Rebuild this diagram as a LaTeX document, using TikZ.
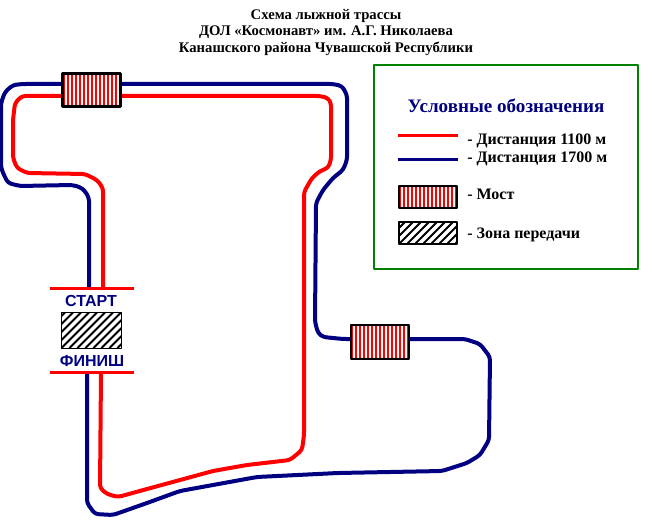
\documentclass[tikz,border=0pt]{standalone}
\usepackage{fontspec}
\setmainfont{Liberation Serif}
\newfontfamily\arialfont{Liberation Sans}
\definecolor{sinij}{RGB}{0,0,128}
\definecolor{zelenyj}{RGB}{0,128,0}
\tikzset{
	redline/.style={draw=red,line width=3pt,rounded corners=2.5pt},
	blueline/.style={draw=sinij,line width=3pt,rounded corners=2.5pt},
	mostbox/.style={draw=black,line width=1.5pt,fill=red,inner sep=0pt,
		minimum width=43.5pt,minimum height=25.5pt,
		path picture={\foreach \i in {1,...,14}
			\fill[white] ([xshift=\i*3pt-1.5pt]path picture bounding box.north west) rectangle ++(1.5pt,-30pt);}},
	zonabox/.style={draw=black,line width=.75pt,inner sep=0pt,
		minimum width=45pt,minimum height=27pt,
		path picture={\foreach \i in {-5,...,9}
			\draw[black,line width=1.5pt] ([xshift=\i*6pt]path picture bounding box.south west) -- ++(30pt,30pt);}},
	zonalegend/.style={zonabox,line width=1.5pt,minimum width=44pt,minimum height=17pt},
	mostlegend/.style={mostbox,minimum height=17pt},
	starttext/.style={font=\arialfont\bfseries\fontsize{12}{12}\selectfont,text=sinij,inner sep=0pt},
	legendtext/.style={anchor=west,inner sep=0pt,font=\fontsize{12}{12}\selectfont\bfseries}
}
\begin{document}
\begin{tikzpicture}[x=.75pt,y=-.75pt,line join=round,line cap=butt]
\useasboundingbox (0,0) rectangle (652,520);
% Заголовок
\node[align=center,inner sep=0pt,font=\fontsize{11}{12.3}\selectfont\bfseries] (title) at (326,32.5)
	{Схема лыжной трассы\\ДОЛ «Космонавт» им. А.Г. Николаева\\Канашского района Чувашской Республики};
\node[mostbox,line width=2.25pt,minimum height=24.75pt] (most1) at (91.5,90) {};
\node[mostbox] (most2) at (380,342) {};
\node[zonabox] (zona) at (91.5,330) {};
\coordinate (startR) at (103,288);
\coordinate (startB) at (89,288);
\coordinate (finR) at (101,372);
\coordinate (finB) at (87,372);
% Дистанция 1700 м
\draw[blueline] (startB) -- (89,198) -- (85,191) -- (80,187) -- (72,185) -- (20,186) -- (8,183) -- (3,173) -- (1,167) -- (1,103) -- (5,92) -- (13,85) -- (23,84) -- (most1.west|-0,84);
\draw[blueline] (most1.east|-0,84) -- (333,84) -- (342,86) -- (347,95) -- (347,160) -- (343,170) -- (333,178) -- (323,190) -- (316,203) -- (315,322) -- (318,333) -- (323,337) -- (343,339) -- (most2.west|-0,339);
\draw[blueline] (most2.east|-0,339) -- (465,339) -- (480,344) -- (490,357) -- (489,440) -- (480,455) -- (467,463) -- (442,471) -- (338,473) -- (257,477) -- (213,485) -- (180,491) -- (147,503) -- (113,515) -- (95,514) -- (87,503) -- (finB);
% Дистанция 1100 м
\draw[redline] (startR) -- (103,188) -- (97,180) -- (85,174) -- (27,173) -- (17,168) -- (13,158) -- (13,120) -- (15,103) -- (22,96) -- (most1.west|-0,96);
\draw[redline] (most1.east|-0,96) -- (320,96) -- (328,98) -- (331,103) -- (331,160) -- (328,168) -- (320,171) -- (312,178) -- (304,192) -- (304,435) -- (302,450) -- (290,460) -- (247,465) -- (213,471) -- (180,480) -- (147,489) -- (118,497) -- (107,494) -- (100,488) -- (finR);
% Старт и финиш
\draw[red,line width=2.25pt] (50,288) -- (134,288);
\draw[red,line width=2.25pt] (50,372) -- (134,372);
\node[starttext] (start) at (91,301) {СТАРТ};
\node[starttext] (finish) at (92,361) {ФИНИШ};
% Условные обозначения
\draw[zelenyj,line width=1.5pt] (374,65) rectangle (638,269);
\node[inner sep=0pt,text=sinij,font=\fontsize{14.3}{14.3}\selectfont\bfseries] (legend) at (506,106) {Условные обозначения};
\coordinate (r1) at (398,136); \coordinate (r2) at (458,136);
\coordinate (b1) at (398,160); \coordinate (b2) at (458,160);
\draw[red,line width=2.25pt] (r1) -- (r2);
\draw[sinij,line width=2.25pt] (b1) -- (b2);
\node[mostlegend] (most3) at (428,197) {};
\node[zonalegend] (zona2) at (428,233) {};
\node[legendtext] (t1) at (467,140.5) {- Дистанция 1100 м};
\node[legendtext] (t2) at (467,158.5) {- Дистанция 1700 м};
\node[legendtext] (t3) at (467,194.5) {- Мост};
\node[legendtext] (t4) at (467,234.5) {- Зона передачи};
\end{tikzpicture}
\end{document}
